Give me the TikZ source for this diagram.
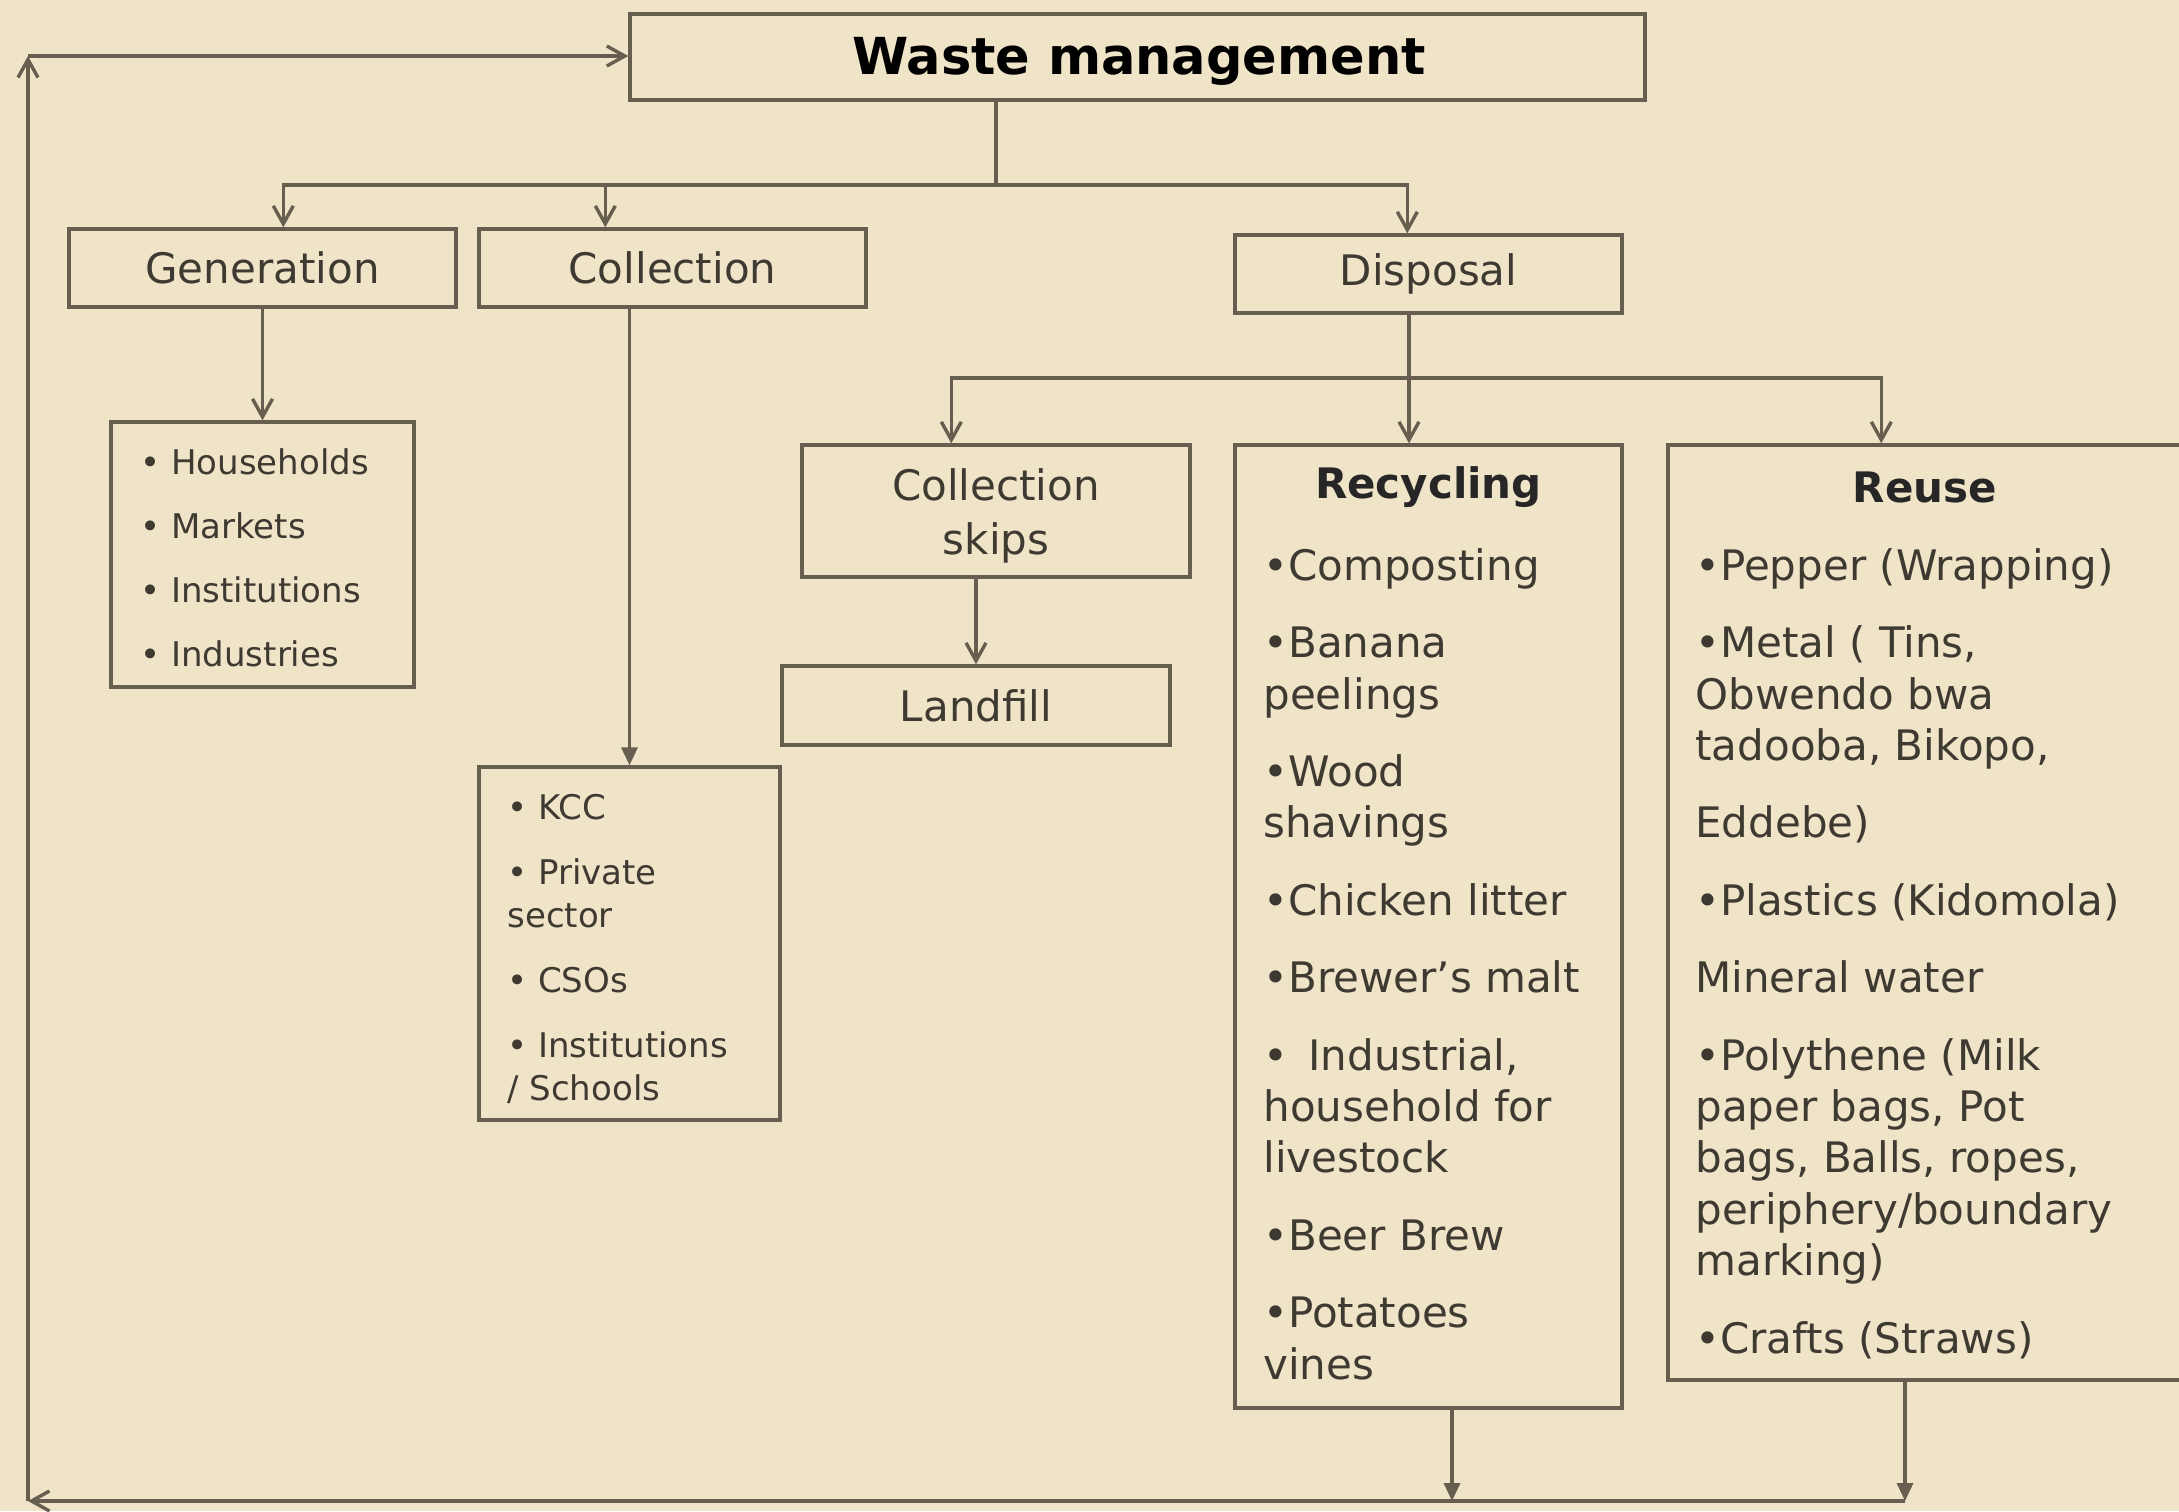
\documentclass[tikz,border=0pt]{standalone}
\usepackage{fontspec}
\setmainfont{DejaVu Sans}
\usepackage{tikz}
\usetikzlibrary{arrows.meta, positioning, calc}
\definecolor{paper}{RGB}{240,228,200}
\definecolor{wireline}{RGB}{102,95,80}
\definecolor{inkgray}{RGB}{62,58,50}

\begin{document}
\begin{tikzpicture}[
  x=0.5pt, y=-0.5pt,
  box/.style={draw=wireline, line width=1.7pt, fill=paper, inner sep=0pt,
              font=\fontsize{21}{27}\selectfont, text=inkgray, align=center},
  head/.style={font=\fontsize{21}{25.7}\selectfont\bfseries, text=black!85},
  items/.style={anchor=north west, inner sep=0pt, align=left, text=inkgray,
                font=\fontsize{21}{25.7}\selectfont},
  smallitems/.style={items, font=\fontsize{17}{32}\selectfont},
  link/.style={draw=wireline, line width=1.7pt},
  openarrow/.style={link, -{Straight Barb[length=9pt, width=10pt]}},
  fillarrow/.style={link, -{Triangle[length=9pt, width=8pt]}},
]

\useasboundingbox (0,0) rectangle (2179,1511);
\fill[paper] (0,0) rectangle (2179,1511);
\clip (0,0) rectangle (2179,1511);

% top level
\node[box, minimum width=507.5pt, minimum height=43pt] (wm) at (1137.5,57) {};
\node[font=\fontsize{25.5}{30}\selectfont\bfseries, text=black] (wmtitle) at (1139,61)
  {Waste management};

\node[box, minimum width=193.5pt, minimum height=39pt] (gen)  at (262.5,268)  {Generation};
\node[box, minimum width=193.5pt, minimum height=39pt] (coll) at (672.5,268)  {Collection};
\node[box, minimum width=193.5pt, minimum height=39pt] (disp) at (1428.5,274) {Disposal};

% lists under generation and collection
\node[box, minimum width=151.5pt, minimum height=132.5pt] (genlist) at (262.5,554.5) {};
\node[smallitems] (genitems) at (140,448)
  {• Households\\• Markets\\• Institutions\\• Industries};

\node[box, minimum width=150.5pt, minimum height=176.5pt] (colllist) at (629.5,943.5) {};
\node[smallitems, font=\fontsize{17}{21.5}\selectfont] (collitems) at (507,794)
  {• KCC\\[11pt]• Private\\sector\\[11pt]• CSOs\\[11pt]• Institutions\\/ Schools};

% disposal branch
\node[box, minimum width=194pt, minimum height=66pt] (skips) at (996,511) {};
\node[font=\fontsize{21}{27}\selectfont, text=inkgray, align=center] (skipstext) at (996,516)
  {Collection\\skips};
\node[box, minimum width=194pt, minimum height=39.5pt] (landfill) at (976,705.5) {Landfill};

\node[box, minimum width=193.5pt, minimum height=481.5pt] (recyc) at (1428.5,926.5) {};
\node[head] (recyctitle) at (1428.5,487) {Recycling};
\node[items] (recycitems) at (1263,548)
  {•Composting\\[13pt]•Banana\\peelings\\[13pt]•Wood\\shavings\\[13pt]•Chicken litter\\[13pt]%
   •Brewer’s malt\\[13pt]• \,Industrial,\\household for\\livestock\\[13pt]•Beer Brew\\[13pt]%
   •Potatoes\\vines};

\node[box, minimum width=261pt, minimum height=467.5pt] (reuse) at (1929,912.5) {};
\node[head] (reusetitle) at (1925,487) {Reuse};
\node[items] (reuseitems) at (1695,548)
  {•Pepper (Wrapping)\\[13pt]•Metal ( Tins,\\Obwendo bwa\\tadooba, Bikopo,\\[13pt]Eddebe)\\[13pt]%
   •Plastics (Kidomola)\\[13pt]Mineral water\\[13pt]•Polythene (Milk\\paper bags, Pot\\%
   bags, Balls, ropes,\\periphery/boundary\\marking)\\[13pt]•Crafts (Straws)};

% connectors
\coordinate (stem) at (996,185);
\draw[link] (wm.south -| stem) -- (stem);
\draw[openarrow] (stem) -| ($(gen.north west)+(216,0)$);
\draw[openarrow] (stem) -| ($(coll.north west)+(128,0)$);
\draw[openarrow] (stem) -| ($(disp.north west)+(174,0)$);

\draw[openarrow] (genlist.north |- gen.south) -- (genlist.north);
\draw[fillarrow] (colllist.north |- coll.south) -- (colllist.north);

\coordinate (split) at (1409,378);
\draw[link] (split |- disp.south) -- (split);
\draw[openarrow] (split) -| ($(skips.north west)+(151,0)$);
\draw[openarrow] (split) -- (split |- recyc.north);
\draw[openarrow] (split) -| ($(reuse.north west)+(215,0)$);
\draw[openarrow] (landfill.north |- skips.south) -- (landfill.north);

% feedback loop
\coordinate (recycout) at (1452,1501);
\coordinate (reuseout) at (1905,1501);
\coordinate (loopsw) at (28,1501);
\coordinate (loopnw) at (28,56);
\draw[fillarrow] (recycout |- recyc.south) -- (recycout);
\draw[fillarrow] (reuseout |- reuse.south) -- (reuseout);
\draw[openarrow] (reuseout) -- (loopsw);
\draw[openarrow] (loopsw) -- (loopnw);
\draw[openarrow] (loopnw) -- (loopnw -| wm.west);

\end{tikzpicture}
\end{document}
